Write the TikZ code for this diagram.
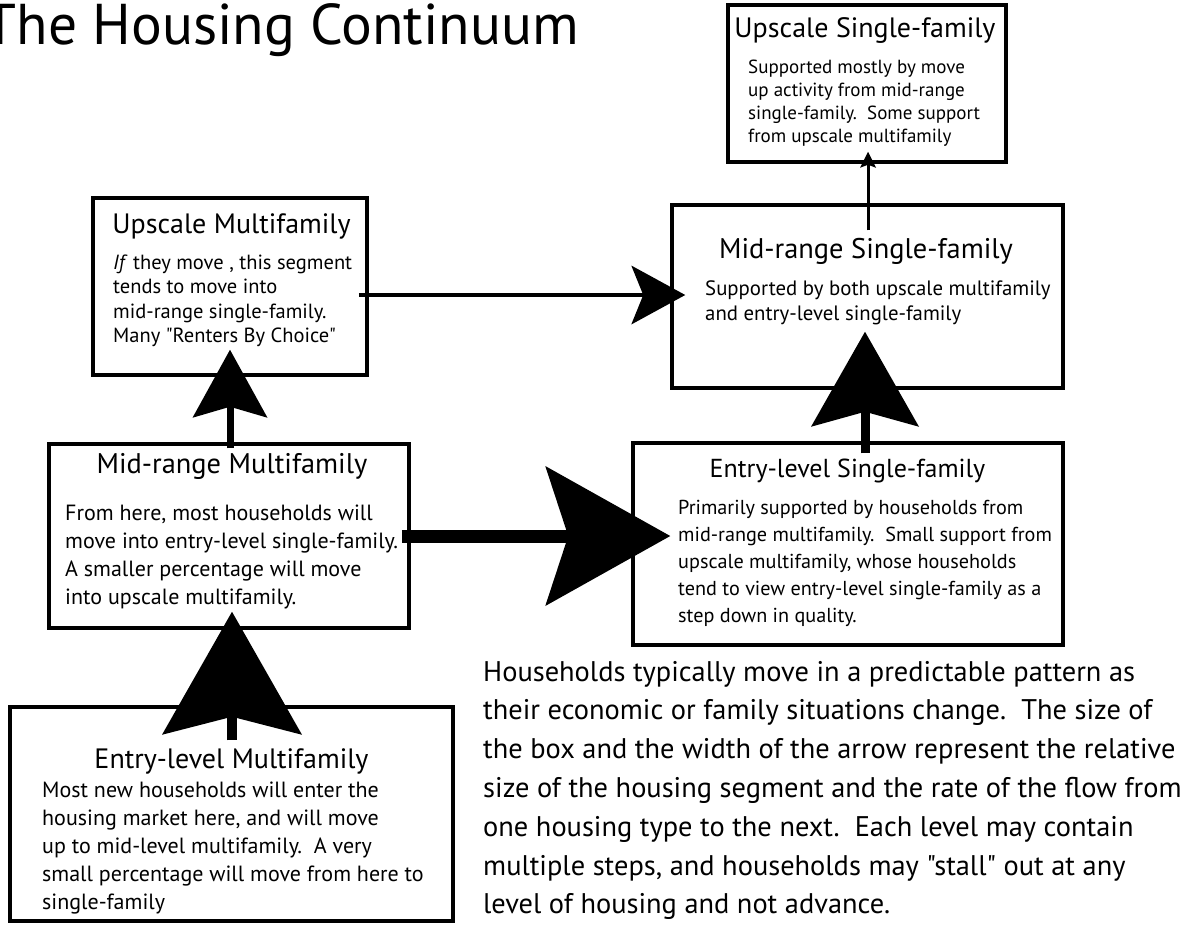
\documentclass[tikz,border=0pt]{standalone}
\usepackage{fontspec}
\setmainfont{PT Sans}[Ligatures=TeXOff]
\usetikzlibrary{arrows.meta,calc}
\newcommand{\boxtext}[3]{\parbox[t]{720pt}{\raggedright\fontsize{#1}{#2}\selectfont #3}}
\tikzset{
  box/.style={draw=black, line width=3.5pt, inner sep=0pt, fill=none},
  ttl/.style={anchor=base, inner sep=0pt},
  body/.style={anchor=base west, inner sep=0pt},
  flow/.style={draw=black, line width=#1},
}
\begin{document}
\begin{tikzpicture}[x=1pt,y=-1pt]
\useasboundingbox[fill=white] (0,0) rectangle (1186,924);

% title
\node[anchor=base east, inner sep=0pt] (title) at (579,44) {\fontsize{57.5}{62}\selectfont The Housing Continuum};

% boxes
\node[box, minimum width=278pt, minimum height=157pt] (usf) at (867,83.5) {};
\node[box, minimum width=274pt, minimum height=177pt] (umf) at (230,286.5) {};
\node[box, minimum width=391pt, minimum height=183pt] (msf) at (867.5,296.5) {};
\node[box, minimum width=360pt, minimum height=184pt] (mmf) at (229,536) {};
\node[box, minimum width=430pt, minimum height=202pt] (esf) at (848,544) {};
\node[box, minimum width=443pt, minimum height=214pt] (emf) at (231.5,814) {};

% box titles
\node[ttl] (usfT) at (865,37) {\fontsize{28}{32}\selectfont Upscale Single-family};
\node[ttl] (umfT) at (231.5,233) {\fontsize{28}{32}\selectfont Upscale Multifamily};
\node[ttl] (msfT) at (866,258) {\fontsize{28.4}{32}\selectfont Mid-range Single-family};
\node[ttl] (mmfT) at (232,473) {\fontsize{28.4}{32}\selectfont Mid-range Multifamily};
\node[ttl] (esfT) at (847.5,477) {\fontsize{26}{30}\selectfont Entry-level Single-family};
\node[ttl] (emfT) at (231.5,768) {\fontsize{28}{32}\selectfont Entry-level Multifamily};

% box texts
\node[body] (usfB) at (748,73) {\boxtext{19}{23}{Supported mostly by move\\up activity from mid-range\\single-family.\ \ Some support\\from upscale multifamily}};
\node[body] (umfB) at (113,269) {\boxtext{20.5}{24.5}{\textit{If} they move , this segment\\tends to move into\\mid-range single-family.\\Many "Renters By Choice"}};
\node[body] (msfB) at (705,295) {\boxtext{20.8}{25}{Supported by both upscale multifamily\\and entry-level single-family}};
\node[body] (mmfB) at (65,520) {\boxtext{22}{28}{From here, most households will\\move into entry-level single-family.\\A smaller percentage will move\\into upscale multifamily.}};
\node[body] (esfB) at (678,514) {\boxtext{20.2}{27}{Primarily supported by households from\\mid-range multifamily.\ \ Small support from\\upscale multifamily, whose households\\tend to view entry-level single-family as a\\step down in quality.}};
\node[body] (emfB) at (42,797) {\boxtext{22}{28}{Most new households will enter the\\housing market here, and will move\\up to mid-level multifamily.\ \ A very\\small percentage will move from here to\\single-family}};

% explanatory paragraph
\node[body] (note) at (483,681) {\boxtext{28.4}{38.8}{Households typically move in a predictable pattern as\\their economic or family situations change.\ \ The size of\\the box and the width of the arrow represent the relative\\size of the housing segment and the rate of the flow from\\one housing type to the next.\ \ Each level may contain\\multiple steps, and households may "stall" out at any\\level of housing and not advance.}};

% flows
\draw[flow=3pt, -{Stealth[length=16pt, width=16pt, inset=3pt, line width=0pt]}]
  ($(msf.north)+(0.5,27)$) -- ($(usf.south)+(1,-12)$);
\draw[flow=4.5pt, -{Stealth[length=54pt, width=59pt, inset=12pt, line width=0pt]}]
  ($(umf.east)+(-10,8.5)$) -- ($(msf.west)+(15,-1.5)$);
\draw[flow=7pt, -{Stealth[length=68pt, width=75pt, inset=11pt, line width=0pt]}]
  ($(mmf.north)+(1,6)$) -- ($(umf.south)+(0,-27)$);
\draw[flow=9pt, -{Stealth[length=95pt, width=108pt, inset=15pt, line width=0pt]}]
  ($(esf.north)+(17,12)$) -- ($(msf.south)+(-2.5,-58)$);
\draw[flow=13pt, -{Stealth[length=125pt, width=140pt, inset=23pt, line width=0pt]}]
  ($(mmf.east)+(-9,0)$) -- ($(esf.west)+(39,-8)$);
\draw[flow=10pt, -{Stealth[length=123pt, width=140pt, inset=18pt, line width=0pt]}]
  ($(emf.north)+(0.5,35)$) -- ($(mmf.south)+(3,-18)$);
\end{tikzpicture}
\end{document}
